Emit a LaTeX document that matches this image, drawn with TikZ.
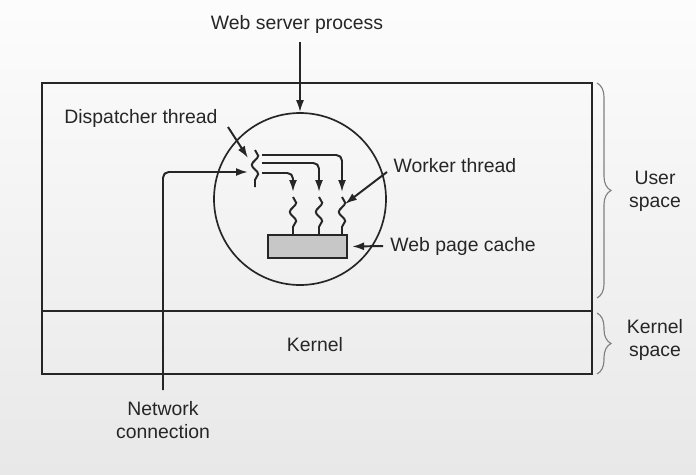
\documentclass[tikz,border=0pt]{standalone}
\usepackage{fontspec}
\setmainfont{Liberation Sans}
\usetikzlibrary{arrows.meta,positioning,calc,decorations.pathmorphing,decorations.pathreplacing}

\begin{document}
\begin{tikzpicture}[
    lbl/.style={font=\fontsize{13.8}{16.5}\selectfont, text=black!85, inner sep=1pt, align=center},
    arr/.style={-{Latex[length=3mm,width=2mm]}, line width=1.4pt, draw=black!85},
    wav/.style={decorate, decoration={snake, segment length=4.6mm, amplitude=0.8mm}, line width=1.4pt, draw=black!85},
    brc/.style={decorate, decoration={brace, amplitude=3.5mm}, line width=0.8pt, draw=black!50},
    frame/.style={draw=black!85, line width=1.2pt}
]
\useasboundingbox (0,0) rectangle (17.4,11.85);
\fill[top color=black!1, bottom color=black!9] (0,0) rectangle (17.4,11.85);

% user / kernel boxes
\draw[frame] (1.05,2.5) rectangle (14.8,9.775);
\draw[frame] (1.05,4.075) -- (14.8,4.075);

% process, cache
\node[circle, frame, minimum size=4.3cm] (proc) at (7.5,6.875) {};
\node[frame, fill=black!22, minimum width=1.975cm, minimum height=0.575cm] (cache) at (7.6875,5.6875) {};

% labels
\node[lbl] (wsp) at (7.425,11.25) {Web server process};
\node[lbl] (disp) at (3.525,8.9) {Dispatcher thread};
\node[lbl, anchor=west] (wrk) at (9.8,7.7) {Worker thread};
\node[lbl, anchor=west] (wpc) at (9.72,5.7) {Web page cache};
\node[lbl] (kern) at (7.875,3.225) {Kernel};
\node[lbl, anchor=north] (net) at (4.075,1.85) {Network\\connection};
\node[lbl] (usr) at (16.375,7.075) {User\\space};
\node[lbl] (ksp) at (16.375,3.35) {Kernel\\space};

% threads
\coordinate (dtop) at (6.375,8.1);
\coordinate (dbot) at (6.375,7.175);
\coordinate (din) at (6.2,7.55);
\coordinate (d1) at (6.55,7.975);
\coordinate (d2) at (6.55,7.775);
\coordinate (d3) at (6.55,7.525);
\coordinate (w1) at (8.55,7.05);
\coordinate (w2) at (7.975,7.05);
\coordinate (w3) at (7.325,7.05);

\draw[wav] (dtop) -- (dbot);
\draw[arr, rounded corners=4pt] (d1) -| (w1);
\draw[arr, rounded corners=4pt] (d2) -| (w2);
\draw[arr, rounded corners=4pt] (d3) -| (w3);
\draw[wav] (8.55,6.925) -- (8.55,5.975);
\draw[wav] (7.975,6.925) -- (7.975,5.975);
\draw[wav] (7.325,6.925) -- (7.325,5.975);

% arrows from labels
\draw[arr] (proc.north |- 0,10.8) -- (proc.north);
\draw[arr] (5.7,8.675) -- (6.2,7.9);
\draw[arr] (9.675,7.55) -- (8.625,6.75);
\draw[arr, shorten <=4pt, shorten >=3pt] (wpc.west) -- (cache.east);
\draw[arr, rounded corners=4pt, shorten <=0.25cm] (net.north) |- (din);

% braces
\draw[brc] (14.925,9.775) -- (14.925,4.4);
\draw[brc] (14.925,4.025) -- (14.925,2.5);
\end{tikzpicture}
\end{document}
